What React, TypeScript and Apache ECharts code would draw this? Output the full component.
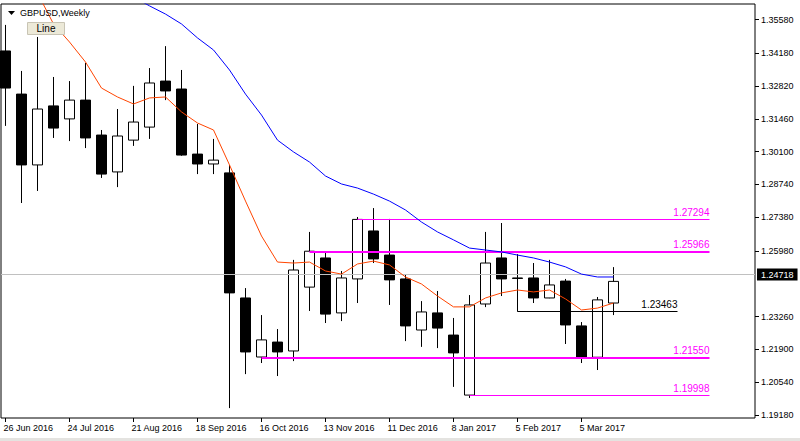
import React, { useEffect, useRef } from 'react';
import * as echarts from 'echarts';

const FONT = "'Liberation Sans', Arial, sans-serif";

// Week-of date labels shown on the time axis (every 4th weekly bar, starting at bar 0)
const dateTicks = ['26 Jun 2016', '24 Jul 2016', '21 Aug 2016', '18 Sep 2016', '16 Oct 2016', '13 Nov 2016', '11 Dec 2016', '8 Jan 2017', '5 Feb 2017', '5 Mar 2017'];
const weeksPerTick = 4;

// Price-axis labels
const priceTicks = [1.3558, 1.3418, 1.3282, 1.3146, 1.301, 1.2874, 1.2738, 1.2598, 1.2326, 1.219, 1.2054, 1.1918];

// Weekly GBPUSD candles
const opens = [1.3428, 1.3249, 1.2955, 1.32, 1.3146, 1.3224, 1.3079, 1.2926, 1.3058, 1.3112, 1.3303, 1.327, 1.3, 1.2959, 1.2922, 1.2403, 1.2158, 1.222, 1.2183, 1.2448, 1.2569, 1.2341, 1.2482, 1.2681, 1.2581, 1.2482, 1.227, 1.2341, 1.2249, 1.2, 1.2378, 1.2569, 1.2486, 1.2486, 1.2403, 1.2473, 1.2287, 1.2157, 1.2382];
const closes = [1.3274, 1.2955, 1.3187, 1.3108, 1.3224, 1.3067, 1.2917, 1.3075, 1.3133, 1.3295, 1.3262, 1.2996, 1.2959, 1.2975, 1.2424, 1.2179, 1.2229, 1.2179, 1.2519, 1.2597, 1.2336, 1.2486, 1.2729, 1.2565, 1.2478, 1.2287, 1.2345, 1.2278, 1.2175, 1.2374, 1.2548, 1.2482, 1.2484, 1.2403, 1.2457, 1.2291, 1.2157, 1.2395, 1.24718];
const lows = [1.3117, 1.2797, 1.2847, 1.3067, 1.3054, 1.3025, 1.2901, 1.2863, 1.3034, 1.3063, 1.3224, 1.2993, 1.2917, 1.2917, 1.1946, 1.2087, 1.2133, 1.2079, 1.2141, 1.2349, 1.2299, 1.2307, 1.2382, 1.2548, 1.2374, 1.2224, 1.22, 1.2195, 1.2034, 1.1988, 1.2365, 1.2411, 1.23463, 1.2382, 1.2402, 1.2212, 1.2133, 1.2104, 1.2332];
const highs = [1.3536, 1.3345, 1.3486, 1.332, 1.3303, 1.3378, 1.31, 1.3187, 1.3283, 1.3357, 1.3448, 1.3349, 1.3125, 1.3063, 1.2955, 1.2444, 1.2332, 1.2274, 1.2561, 1.2677, 1.2594, 1.2515, 1.2739, 1.2776, 1.2731, 1.2502, 1.239, 1.2432, 1.232, 1.2415, 1.2677, 1.2714, 1.2585, 1.2548, 1.2561, 1.2482, 1.2303, 1.2407, 1.2531];

// Moving averages
const maFast = [1.393, 1.3805, 1.3668, 1.354, 1.3465, 1.3382, 1.3274, 1.3237, 1.3208, 1.3233, 1.3237, 1.3175, 1.3129, 1.31, 1.2955, 1.2805, 1.266, 1.2552, 1.2548, 1.2552, 1.2515, 1.2502, 1.2544, 1.2556, 1.254, 1.249, 1.2461, 1.2411, 1.2366, 1.2366, 1.2403, 1.2424, 1.2436, 1.2428, 1.2436, 1.2399, 1.2353, 1.2361, 1.2382];
const maSlow = [null, null, null, null, null, null, 1.3731, 1.3689, 1.3652, 1.3615, 1.3581, 1.354, 1.3482, 1.3432, 1.3349, 1.3249, 1.3162, 1.3058, 1.3009, 1.2967, 1.2909, 1.2876, 1.2859, 1.2834, 1.2805, 1.2768, 1.2718, 1.2677, 1.2644, 1.261, 1.2602, 1.2594, 1.2581, 1.2569, 1.2552, 1.2532, 1.2502, 1.249, 1.249];

// Horizontal levels drawn on the chart
const levelPrices = [1.27294, 1.25966, 1.23463, 1.2155, 1.19998];
const levelFromBar = [22, 19, 32, 16, 29];
const levelToBar = [44, 44, 42, 44, 44];
const levelLabels = ['1.27294', '1.25966', '1.23463', '1.21550', '1.19998'];
const levelColors = ['#ff00ff', '#ff00ff', '#000000', '#ff00ff', '#ff00ff'];
const levelWidths = [1, 2, 1, 2, 1];

const lastPrice = 1.24718;

export default function App() {
  const ref = useRef<HTMLDivElement>(null);

  useEffect(() => {
    document.body.style.margin = '0';
    const chart = echarts.init(ref.current!, null, { renderer: 'svg' });

    const candles = opens.map((o, i) => [i, o, closes[i], lows[i], highs[i]]);
    const tickIdx = dateTicks.map((_, k) => k * weeksPerTick);

    const levelLines: any[] = levelPrices.map((p, k) => [
      {
        coord: [levelFromBar[k], p],
        lineStyle: { color: levelColors[k], width: levelWidths[k], type: 'solid' },
        label: {
          show: true,
          position: 'insideEndTop',
          formatter: levelLabels[k],
          color: levelColors[k],
          fontSize: 10,
          fontFamily: FONT,
          distance: [0, 2],
        },
      },
      { coord: [levelToBar[k], p] },
    ]);

    const option: any = {
      animation: false,
      backgroundColor: '#ffffff',
      grid: {
        left: 1,
        right: 45,
        top: 4,
        bottom: 23,
        show: true,
        borderColor: '#000',
        borderWidth: 1,
        backgroundColor: '#fff',
      },
      xAxis: {
        type: 'value',
        min: -0.28125,
        max: 46.84375,
        axisLine: { show: false, onZero: false },
        splitLine: { show: false },
        axisTick: { show: true, customValues: tickIdx, length: 4, lineStyle: { color: '#000' } },
        axisLabel: {
          customValues: tickIdx,
          formatter: (v: number) => dateTicks[Math.round(v / weeksPerTick)] ?? '',
          align: 'left',
          color: '#000',
          fontSize: 9,
          fontFamily: FONT,
          margin: 5,
          padding: [0, 0, 0, -2],
        },
      },
      yAxis: {
        type: 'value',
        position: 'right',
        min: 1.19049,
        max: 1.36228,
        axisLine: { show: false, onZero: false },
        splitLine: { show: false },
        axisTick: { show: true, customValues: priceTicks, length: 4, lineStyle: { color: '#000' } },
        axisLabel: {
          customValues: priceTicks,
          formatter: (v: number) => v.toFixed(5),
          color: '#000',
          fontSize: 9,
          fontFamily: FONT,
          margin: 6,
        },
      },
      series: [
        {
          type: 'candlestick',
          data: candles,
          encode: { x: 0, y: [1, 2, 3, 4] },
          barWidth: 10,
          clip: true,
          itemStyle: {
            color: '#ffffff',
            color0: '#000000',
            borderColor: '#000000',
            borderColor0: '#000000',
            borderWidth: 1,
          },
          markLine: {
            silent: true,
            symbol: ['none', 'none'],
            animation: false,
            data: [
              {
                yAxis: lastPrice,
                lineStyle: { color: '#c0c0c0', width: 1, type: 'solid' },
                label: {
                  show: true,
                  position: 'end',
                  formatter: lastPrice.toFixed(5),
                  color: '#fff',
                  backgroundColor: '#000',
                  padding: [2, 4, 1, 4],
                  fontSize: 9,
                  fontFamily: FONT,
                  distance: 2,
                },
              },
              ...levelLines,
            ],
          },
        },
        {
          type: 'line',
          data: maFast.map((v, i) => [i, v]),
          showSymbol: false,
          symbol: 'none',
          z: 5,
          lineStyle: { color: '#ff4500', width: 1 },
        },
        {
          type: 'line',
          data: maSlow.map((v, i) => [i, v]),
          showSymbol: false,
          symbol: 'none',
          z: 5,
          lineStyle: { color: '#0000ff', width: 1 },
        },
      ],
      graphic: [
        { type: 'rect', shape: { x: 0, y: 438, width: 800, height: 3 }, style: { fill: '#e4e3e0' }, z: 100 },
        { type: 'polygon', shape: { points: [[8, 11], [15, 11], [11.5, 15]] }, style: { fill: '#000' }, z: 100 },
        {
          type: 'text',
          x: 20,
          y: 13,
          z: 100,
          style: { text: 'GBPUSD,Weekly', fill: '#000', font: `9px ${FONT}`, verticalAlign: 'middle', textVerticalAlign: 'middle' },
        },
        {
          type: 'rect',
          shape: { x: 27.5, y: 22.5, width: 37, height: 12 },
          style: { fill: '#ece9d8', stroke: '#c8c4b4', lineWidth: 1 },
          z: 100,
        },
        {
          type: 'text',
          x: 46,
          y: 28.5,
          z: 101,
          style: { text: 'Line', fill: '#000', font: `10px ${FONT}`, align: 'center', verticalAlign: 'middle', textAlign: 'center', textVerticalAlign: 'middle' },
        },
      ],
    };

    chart.setOption(option);
    return () => chart.dispose();
  }, []);

  return <div ref={ref} style={{ width: 800, height: 441 }} />;
}
